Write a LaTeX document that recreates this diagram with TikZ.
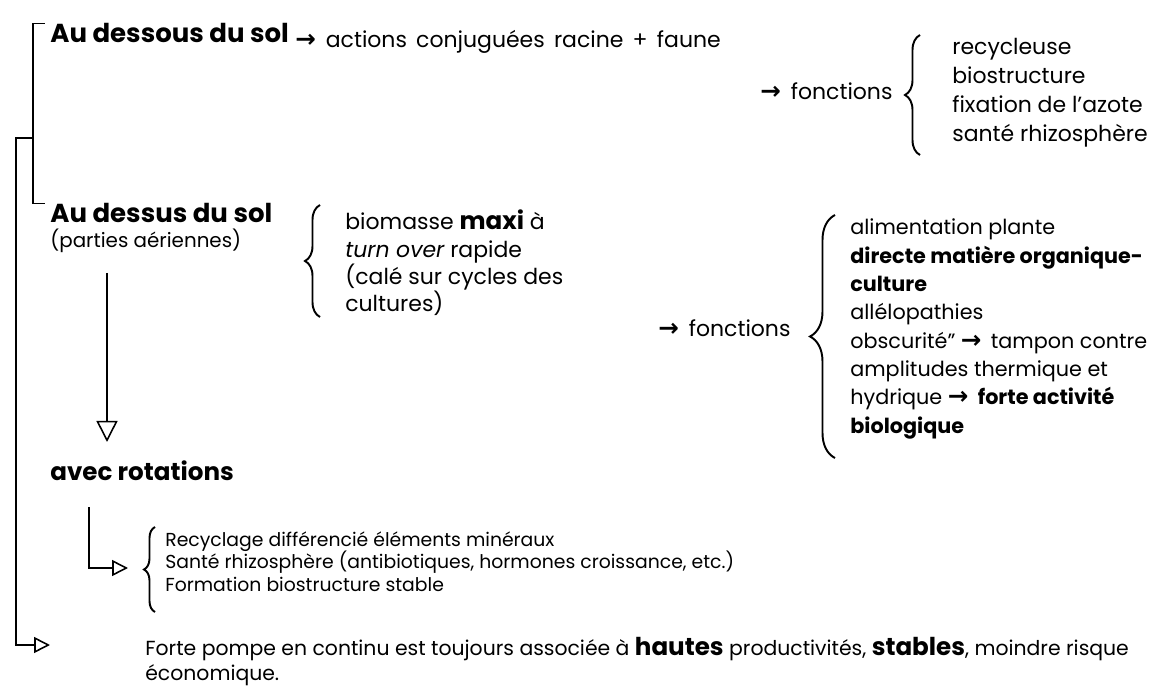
\documentclass[tikz,border=0pt]{standalone}
\usepackage{fontspec}
\setmainfont{Poppins}
\newfontfamily\flechefont{DejaVu Sans}
\usetikzlibrary{arrows.meta,decorations.pathreplacing}
\newcommand{\fl}{{\flechefont\bfseries\fontsize{14}{14}\selectfont →}\hspace{0.45em}}
\newcommand{\gras}[1]{{\fontsize{14}{17}\selectfont\bfseries #1}}
\newcommand{\espace}{\spaceskip=0.42em\relax}

\tikzset{
  corps/.style={anchor=base west, inner sep=0pt, font=\fontsize{12.5}{15}\selectfont},
  titre/.style={corps, font=\fontsize{14.8}{18}\selectfont\bfseries},
  petit/.style={corps, font=\fontsize{10.7}{13}\selectfont},
  trait/.style={line width=0.9pt},
  vide/.style={-{Triangle[open,length=#1,width=#1]}},
  vide/.default=9pt,
  accolade/.style={line width=1.1pt, decorate, decoration={brace,amplitude=#1}},
}

\begin{document}
\begin{tikzpicture}
\useasboundingbox (0,0) rectangle (23.06,-13.98);

% sous le sol
\node[titre] (dessous) at (1.0,-0.86) {Au dessous du sol};
\node[corps] (actions) at (5.9,-0.96) {\espace\fl actions conjuguées racine + faune};
\node[corps] (fonctionsA) at (15.2,-2.0) {\fl fonctions};
\draw[accolade=0.3cm] (18.4,-3.1) -- (18.4,-0.7);
\foreach \t [count=\i] in {recycleuse, biostructure, fixation de l'azote, santé rhizosphère}
  \node[corps] (roleA\i) at (19.04,{-0.52-0.58*\i}) {\t};

% dessus du sol
\node[titre] (dessus) at (1.0,-4.46) {Au dessus du sol};
\node[petit, font=\fontsize{11.3}{13}\selectfont] (parties) at (1.0,-4.96) {(parties aériennes)};
\draw[accolade=0.3cm] (6.4,-6.34) -- (6.4,-4.1);
\foreach \t [count=\i] in {biomasse \gras{maxi} à, {\itshape turn over} rapide, {(calé sur cycles des}, {cultures)}}
  \node[corps] (biomasse\i) at (6.9,{-4.05-0.547*\i}) {\t};

\node[corps] (fonctionsB) at (13.16,-6.74) {\fl fonctions};
\draw[accolade=0.5cm] (16.7,-9.16) -- (16.7,-4.3);
\foreach \t [count=\i] in {alimentation plante, \textbf{directe matière organique-}, \textbf{culture}, allélopathies, obscurité" \fl tampon contre, amplitudes thermique et, hydrique \fl \textbf{forte activité}, \textbf{biologique}}
  \node[corps, font=\fontsize{11.8}{14}\selectfont] (roleB\i) at (17.0,{-4.134-0.566*\i}) {\t};

% rotations
\node[titre, font=\fontsize{14}{16}\selectfont\bfseries] (avec) at (1.0,-9.6) {avec rotations};
\draw[accolade=0.22cm] (3.1,-12.24) -- (3.1,-10.54);
\foreach \t [count=\i] in {Recyclage différencié éléments minéraux, {Santé rhizosphère (antibiotiques, hormones croissance, etc.)}, Formation biostructure stable}
  \node[petit] (rotation\i) at (3.3,{-10.47-0.45*\i}) {\t};

\node[corps, font=\fontsize{11.6}{14}\selectfont] (forte) at (2.9,-13.1) {Forte pompe en continu est toujours associée à \gras{hautes} productivités, \gras{stables}, moindre risque};
\node[corps, font=\fontsize{11.6}{14}\selectfont] (economique) at (2.9,-13.6) {économique.};

% liaisons
\coordinate (jonction) at (0.66,-2.76);
\coordinate (pointe) at (1.0,-12.9);
\draw[trait] ([xshift=-3pt]dessous.north west) -| (jonction) |- ([xshift=-3pt]dessus.north west);
\draw[trait,vide] (jonction) -- ++(-0.34,0) |- (pointe);

\coordinate (r0) at (2.14,-5.46);
\coordinate (r1) at (2.14,-8.84);
\draw[trait,vide=12pt] (r0) -- (r1);

\coordinate (s0) at (1.78,-10.14);
\coordinate (s1) at (2.56,-11.36);
\draw[trait,vide] (s0) |- (s1);
\end{tikzpicture}
\end{document}
